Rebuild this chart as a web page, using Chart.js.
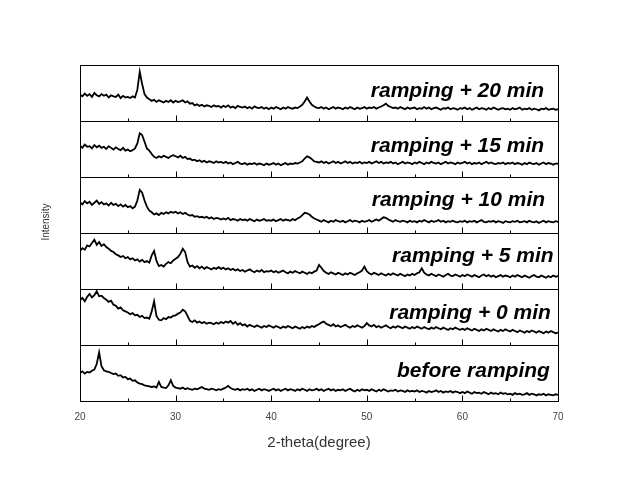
<!DOCTYPE html>
<html>
<head>
<meta charset="utf-8">
<script src="https://cdn.jsdelivr.net/npm/chart.js@4/dist/chart.umd.min.js"></script>
<style>
  body { margin: 0; background: #fff; }
</style>
</head>
<body>
<canvas id="myChart" width="622" height="483"></canvas>
<script>
// 2-theta sampling grid (degrees)
const twoTheta = [
  20,20.25,20.5,20.75,21,21.25,21.5,21.75,22,22.25,22.5,22.75,23,23.25,23.5,23.75,24,24.25,24.5,24.75,
  25,25.25,25.5,25.75,26,26.25,26.5,26.75,27,27.25,27.5,27.75,28,28.25,28.5,28.75,29,29.25,29.5,29.75,
  30,30.25,30.5,30.75,31,31.25,31.5,31.75,32,32.25,32.5,32.75,33,33.25,33.5,33.75,34,34.25,34.5,34.75,
  35,35.25,35.5,35.75,36,36.25,36.5,36.75,37,37.25,37.5,37.75,38,38.25,38.5,38.75,39,39.25,39.5,39.75,
  40,40.25,40.5,40.75,41,41.25,41.5,41.75,42,42.25,42.5,42.75,43,43.25,43.5,43.75,44,44.25,44.5,44.75,
  45,45.25,45.5,45.75,46,46.25,46.5,46.75,47,47.25,47.5,47.75,48,48.25,48.5,48.75,49,49.25,49.5,49.75,
  50,50.25,50.5,50.75,51,51.25,51.5,51.75,52,52.25,52.5,52.75,53,53.25,53.5,53.75,54,54.25,54.5,54.75,
  55,55.25,55.5,55.75,56,56.25,56.5,56.75,57,57.25,57.5,57.75,58,58.25,58.5,58.75,59,59.25,59.5,59.75,
  60,60.25,60.5,60.75,61,61.25,61.5,61.75,62,62.25,62.5,62.75,63,63.25,63.5,63.75,64,64.25,64.5,64.75,
  65,65.25,65.5,65.75,66,66.25,66.5,66.75,67,67.25,67.5,67.75,68,68.25,68.5,68.75,69,69.25,69.5,69.75,
  70
];

// intensities, in % of each panel height
const ramp20 = [
  47,44,49,45,48,43,50,46,44,48,45,47,42,46,44,43,47,41,45,42,
  43,41,44,42,56,88,66,48,42,39,36,38,34,37,35,33,36,34,37,33,
  36,34,35,37,33,35,31,32,28,30,27,29,26,28,27,25,28,26,27,24,
  27,25,28,24,26,23,27,25,24,26,23,25,22,26,24,23,25,22,24,21,
  24,22,25,23,21,24,22,25,23,22,24,23,26,29,35,42,35,29,26,24,
  23,25,22,24,21,23,25,22,24,23,21,24,22,25,23,21,24,22,23,25,
  22,24,23,25,22,24,26,28,31,27,25,23,24,22,25,23,21,24,22,23,
  24,21,23,22,25,22,24,21,23,24,22,20,23,22,24,21,23,22,20,23,
  22,24,21,23,20,22,24,21,23,22,20,23,21,24,22,20,22,23,21,22,
  20,23,21,22,24,20,22,21,23,20,22,21,19,22,21,23,20,21,22,20,
  21
];
const ramp15 = [
  56,52,58,54,55,51,57,53,56,52,54,50,55,52,49,53,50,48,52,47,
  49,46,48,51,60,78,75,63,51,47,41,36,34,37,35,38,36,34,37,39,
  37,35,38,34,36,32,33,30,31,28,30,27,29,26,28,27,25,28,26,27,
  25,27,24,26,23,25,27,24,23,25,22,24,23,25,22,24,23,21,24,22,
  23,25,22,24,21,23,25,22,24,23,25,24,26,28,33,37,35,32,28,27,
  26,28,25,27,24,26,28,25,27,24,26,28,25,27,24,26,25,27,24,26,
  25,27,24,26,28,25,27,24,26,25,27,24,26,23,25,27,24,26,25,23,
  26,24,27,25,23,26,24,27,25,24,26,23,25,27,24,26,25,23,26,24,
  25,27,24,26,23,25,24,26,23,25,27,24,26,24,23,25,24,26,23,25,
  24,26,23,25,24,22,25,23,26,24,23,25,22,24,26,23,25,24,22,24,
  24
];
const ramp10 = [
  55,51,57,53,56,50,54,58,52,55,51,53,49,54,50,52,48,51,47,50,
  46,48,44,47,58,77,72,58,47,40,37,33,35,32,36,34,37,35,38,36,
  38,35,37,34,36,33,31,32,29,30,28,29,27,29,26,28,25,27,26,24,
  26,24,27,23,25,24,22,25,23,24,22,25,23,21,24,22,23,25,22,23,
  22,24,21,23,25,22,24,23,22,25,23,26,28,32,36,35,33,29,26,24,
  22,20,23,21,19,22,20,23,21,20,22,19,21,23,20,22,21,19,22,20,
  21,23,20,22,24,22,25,28,27,24,22,20,23,21,20,22,21,19,22,20,
  21,19,22,20,23,21,19,22,20,21,23,20,22,19,21,20,22,20,19,21,
  20,22,19,21,20,22,19,21,23,20,19,21,20,22,19,21,20,18,21,20,
  19,21,20,22,19,20,21,19,22,20,19,21,18,20,22,19,21,20,19,21,
  20
];
const ramp5 = [
  68,73,70,78,76,82,88,79,84,77,80,75,72,68,66,62,60,57,59,55,
  57,53,55,51,53,49,52,48,50,47,60,68,50,41,43,40,45,48,46,51,
  54,57,63,72,66,48,40,42,38,41,37,40,36,39,37,35,38,36,39,36,
  38,35,37,34,36,33,35,32,34,31,33,35,32,30,33,31,34,30,32,31,
  33,30,32,29,31,33,30,28,31,29,32,30,28,31,29,27,30,28,31,33,
  43,38,32,29,27,30,28,26,29,27,25,28,26,29,27,25,28,30,33,40,
  32,28,26,29,27,25,28,26,24,27,25,28,26,24,27,25,23,26,24,27,
  25,28,30,37,29,26,24,27,25,23,26,24,22,25,27,24,23,26,24,22,
  25,23,26,24,22,25,23,21,24,26,23,25,22,24,21,23,25,22,24,23,
  21,24,22,25,23,21,24,22,20,23,25,22,21,24,22,20,23,21,24,22,
  23
];
const ramp0 = [
  80,84,78,86,91,85,89,96,87,88,84,81,77,79,72,70,65,67,62,60,
  58,55,57,53,54,50,52,48,49,47,60,78,52,45,44,48,46,50,49,52,
  53,56,58,63,60,52,43,41,44,40,42,39,41,38,40,39,37,40,38,41,
  39,42,40,43,38,41,36,39,35,37,33,36,34,32,35,33,31,34,32,35,
  33,31,34,32,30,33,31,34,32,30,33,31,29,32,30,33,31,34,32,35,
  37,40,42,38,36,34,37,33,35,32,34,36,33,31,34,32,35,33,31,34,
  39,35,33,36,32,34,31,33,35,32,30,33,31,34,32,30,33,31,29,32,
  30,33,31,29,32,30,28,31,29,32,30,28,31,29,27,30,28,31,29,27,
  29,27,30,28,26,29,27,25,28,26,29,27,25,28,26,24,27,25,28,26,
  24,27,25,23,26,24,22,25,23,26,24,22,25,23,21,24,22,25,23,21,
  22
];
const beforeRamp = [
  50,53,49,52,51,54,56,66,87,62,55,53,52,50,48,49,45,46,42,43,
  39,40,36,37,33,31,30,28,27,26,25,26,24,34,25,24,23,28,37,27,
  24,23,22,24,21,23,21,20,22,21,23,25,22,21,20,22,21,19,21,20,
  22,24,27,23,21,20,22,19,21,20,22,19,21,18,20,22,19,21,20,18,
  20,22,19,21,18,20,22,19,21,20,18,21,19,22,20,18,21,19,20,22,
  19,21,18,20,22,19,21,18,20,19,21,18,20,22,19,17,20,18,21,19,
  20,18,21,19,17,20,18,21,19,17,19,18,20,17,19,18,16,19,17,18,
  17,19,16,18,17,15,18,16,17,19,16,18,15,17,16,18,15,17,16,14,
  16,14,17,15,13,16,14,15,13,16,14,12,15,13,14,12,15,13,14,12,
  13,11,14,12,13,11,12,14,11,13,12,10,12,11,13,10,12,11,10,12,
  11
];

const sampleNames = ["ramping + 20 min", "ramping + 15 min", "ramping + 10 min",
                     "ramping + 5 min", "ramping + 0 min", "before ramping"];
const allSeries = [ramp20, ramp15, ramp10, ramp5, ramp0, beforeRamp];
const xTicks = [20, 30, 40, 50, 60, 70];

// where each panel's name sits (x in degrees = right end, y in % of panel)
const labelX = [68.55, 68.55, 68.65, 69.55, 69.25, 69.15];
const labelY = [43, 45, 48, 48, 47, 43];

const panelIds = allSeries.map((s, k) => "y" + k);

const datasets = allSeries.map((series, k) => ({
    label: sampleNames[k],
    data: twoTheta.map((t, i) => ({ x: t, y: series[i] })),
    yAxisID: panelIds[k],
    borderColor: "#000",
    borderWidth: 1.8,
    pointRadius: 0,
    tension: 0
}));

const scales = {
    x: {
        type: "linear",
        min: 20,
        max: 70,
        afterBuildTicks: (axis) => { axis.ticks = xTicks.map(v => ({ value: v })); },
        grid: { display: false },
        border: { display: false },
        ticks: {
            color: "#444",
            padding: 2,
            font: { family: "'Liberation Sans', Arial, sans-serif", size: 10 }
        },
        title: {
            display: true,
            text: "2-theta(degree)",
            color: "#333",
            padding: { top: 9, bottom: 0 },
            font: { family: "'Liberation Sans', Arial, sans-serif", size: 15 }
        }
    }
};
// left stacked axes are laid out bottom-up, so add them last panel first
panelIds.slice().reverse().forEach(id => {
    scales[id] = {
        type: "linear",
        position: "left",
        stack: "xrd",
        stackWeight: 1,
        min: 0,
        max: 100,
        offset: false,
        ticks: { display: false },
        grid: { display: false },
        border: { display: false }
    };
});

// frames, inner ticks, panel names and the y title
const panelPlugin = {
    id: "panels",
    afterDraw(chart) {
        const ctx = chart.ctx;
        const xs = chart.scales.x;
        const area = chart.chartArea;
        ctx.save();
        ctx.strokeStyle = "#000";
        ctx.lineWidth = 1;
        panelIds.forEach((id, k) => {
            const ys = chart.scales[id];
            const top = Math.round(ys.top) + 0.5;
            const bottom = Math.round(ys.bottom) + 0.5;
            ctx.strokeRect(Math.round(area.left) + 0.5, top,
                Math.round(area.right - area.left), bottom - top);
            for (let v = xs.min; v <= xs.max; v += 5) {
                const px = Math.round(xs.getPixelForValue(v)) + 0.5;
                const len = v % 10 === 0 ? 6 : 3;
                ctx.beginPath();
                ctx.moveTo(px, bottom);
                ctx.lineTo(px, bottom - len);
                ctx.stroke();
            }
            ctx.fillStyle = "#000";
            ctx.font = "italic bold 21px 'Liberation Sans', Arial, sans-serif";
            ctx.textAlign = "right";
            ctx.textBaseline = "alphabetic";
            ctx.fillText(sampleNames[k], xs.getPixelForValue(labelX[k]), ys.getPixelForValue(labelY[k]));
        });
        ctx.translate(area.left - 34, 222);
        ctx.rotate(-Math.PI / 2);
        ctx.fillStyle = "#333";
        ctx.font = "10px 'Liberation Sans', Arial, sans-serif";
        ctx.textAlign = "center";
        ctx.textBaseline = "middle";
        ctx.fillText("Intensity", 0, 0);
        ctx.restore();
    }
};

const myChart = document.querySelector("#myChart");
const chart = new Chart(myChart, {
    type: "line",
    data: { datasets },
    options: {
        responsive: false,
        animation: false,
        devicePixelRatio: 1,
        layout: { padding: { left: 72, right: 64, top: 65, bottom: 31 } },
        plugins: { legend: { display: false }, tooltip: { enabled: false } },
        scales
    },
    plugins: [panelPlugin]
});
</script>
</body>
</html>
